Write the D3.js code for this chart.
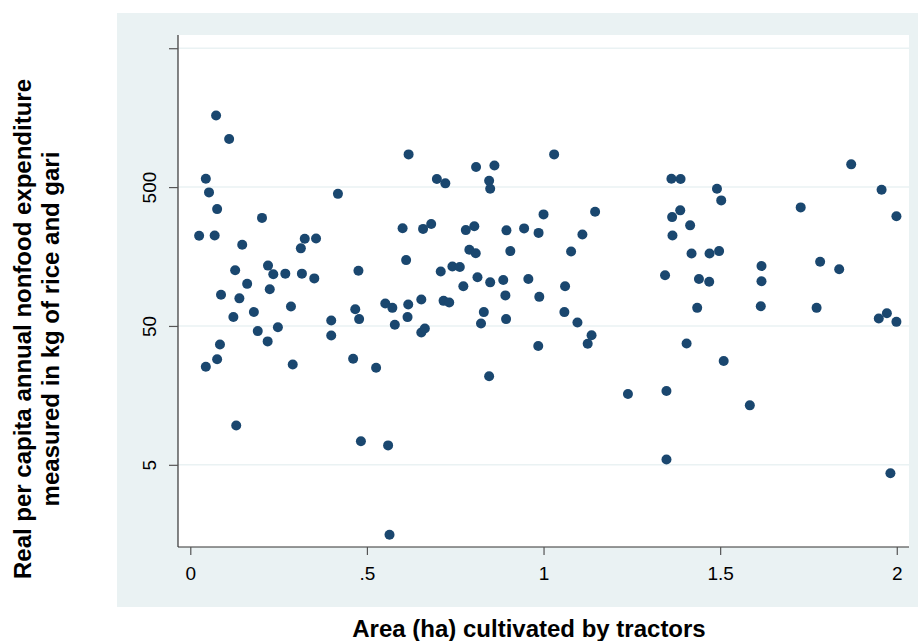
<!DOCTYPE html>
<html><head><meta charset="utf-8">
<script src="https://cdn.jsdelivr.net/npm/d3@7"></script>
<style>body{margin:0;background:#fff}svg{display:block}</style>
</head><body>
<svg id="c" width="918" height="641"></svg>
<script>
// Area (ha) cultivated by tractors
const areaHa = [0.073,0.110,0.044,0.053,0.076,0.203,0.025,0.069,0.147,0.313,0.324,0.356,0.418,0.618,0.601,0.659,0.611,0.127,0.220,0.235,
0.269,0.316,0.351,0.476,0.161,0.225,0.087,0.139,0.122,0.180,0.285,0.084,0.076,0.044,0.191,0.219,0.248,0.290,0.130,0.399,
0.399,0.467,0.478,0.461,0.526,0.483,0.560,0.564,0.552,0.572,0.617,0.654,0.615,0.579,0.654,0.664,0.698,0.722,0.809,0.861,
0.846,0.849,1.030,0.682,0.780,0.804,0.895,0.945,0.986,1.000,1.146,1.110,0.790,0.808,0.906,1.078,0.709,0.742,0.763,0.813,
0.849,0.886,0.957,0.773,1.061,1.344,0.717,0.733,0.892,0.988,0.831,0.823,0.894,1.059,1.096,1.136,1.125,0.985,0.846,1.239,
1.348,1.348,1.362,1.388,1.491,1.503,1.871,1.957,1.999,1.728,1.387,1.364,1.415,1.365,1.419,1.470,1.497,1.440,1.469,1.617,
1.617,1.783,1.837,1.435,1.615,1.773,1.949,1.972,1.999,1.405,1.510,1.584,1.982];
// Real per capita annual nonfood expenditure (kg of rice and gari)
const expenditure = [1640,1110,574,458,347,300,223,224,192,181,212,213,447,860,253,250,149,126,136,118,
119,119,110,125,100.5,92,84,79,58,63,69,36.8,28.8,25.4,45.9,38.7,49,26.4,9.6,54.8,
42.7,66,56,29,25,7.4,6.9,1.57,72.6,67.5,71.4,77.6,57.9,51,44.9,48,571,532,697,716,
555,486,860,271,245,261,244,252,234,318,332,228,177,167,173,172,123.5,134,133,112,
103,107,109,96.7,96.7,116,75.8,73.8,83,81,62.9,52.1,56,62.9,53,42.9,37.2,35.9,21.7,16.2,
17.0,5.46,574,571,486,401,729,478,308,357,340,304,265,224,166,166,173,109,104,135,
105,145,128,67.5,69.4,67.5,56.6,61.8,53.5,37.4,28.0,13.4,4.35];
const xTicks = [0, 0.5, 1, 1.5, 2];
const xTickLabels = ["0", ".5", "1", "1.5", "2"];
const yTicks = [5, 50, 500, 5000];
const yTickLabels = ["5", "50", "500", ""];
const xTitle = "Area (ha) cultivated by tractors";
const yTitle = ["Real per capita annual nonfood expenditure", "measured in kg of rice and gari"];

const svg = d3.select("#c");
const font = "'Liberation Sans', Arial, Helvetica, sans-serif";
// graph region
svg.append("rect").attr("x",117).attr("y",13).attr("width",918-117).attr("height",607-13).attr("fill","#eaf2f3");
const L=178, R=909, T=35, B=547;
svg.append("rect").attr("x",L).attr("y",T).attr("width",R-L).attr("height",B-T).attr("fill","#fff");

const x = d3.scaleLinear().domain([-0.0348, 2.0346]).range([L, R]);
const y = d3.scaleLog().domain([1.28, 6225]).range([B, T]);

// gridlines
svg.append("g").selectAll("line").data(yTicks).join("line")
  .attr("x1",L).attr("x2",R).attr("y1",d=>y(d)).attr("y2",d=>y(d))
  .attr("stroke","#eaf2f3").attr("stroke-width",1.5);

// y axis
const yAxis = svg.append("g").attr("transform",`translate(${L},0)`)
  .call(d3.axisLeft(y).tickValues(yTicks).tickSize(9).tickFormat((d,i)=>yTickLabels[i]));
yAxis.select(".domain").attr("stroke","#333").attr("stroke-width",1.2).attr("d",`M0,${T}V${B}`);
yAxis.selectAll(".tick line").attr("stroke","#555").attr("stroke-width",1.2);
yAxis.selectAll(".tick text").attr("font-family",font).attr("font-size",19).attr("fill","#000")
  .attr("text-anchor","middle").attr("x",null).attr("dy",null)
  .attr("transform","translate(-22,0) rotate(-90)");

// x axis
const xAxis = svg.append("g").attr("transform",`translate(0,${B})`)
  .call(d3.axisBottom(x).tickValues(xTicks).tickSize(8).tickFormat((d,i)=>xTickLabels[i]));
xAxis.select(".domain").attr("stroke","#333").attr("stroke-width",1.2).attr("d",`M${L},0H${R}`);
xAxis.selectAll(".tick line").attr("stroke","#555").attr("stroke-width",1.2);
xAxis.selectAll(".tick text").attr("font-family",font).attr("font-size",19).attr("fill","#000")
  .attr("y",33).attr("dy",null);

// points
svg.append("g").selectAll("circle").data(areaHa.map((a,i)=>[a,expenditure[i]])).join("circle")
  .attr("cx",d=>x(d[0])).attr("cy",d=>y(d[1])).attr("r",5).attr("fill","#1a476f");

// titles
svg.append("text").attr("x",529).attr("y",637).attr("text-anchor","middle")
  .attr("font-family",font).attr("font-weight","bold").attr("font-size",24).text(xTitle);
const yt = svg.append("g").attr("transform","translate(0,329) rotate(-90)");
yt.selectAll("text").data(yTitle).join("text")
  .attr("x",0).attr("y",(d,i)=>31+i*28).attr("text-anchor","middle")
  .attr("font-family",font).attr("font-weight","bold").attr("font-size",24).text(d=>d);
</script>
</body></html>
